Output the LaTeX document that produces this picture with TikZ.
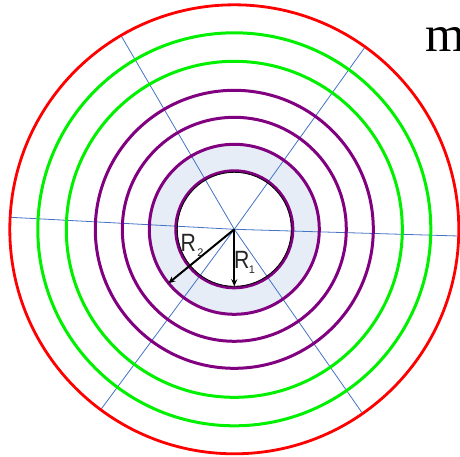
\documentclass[tikz,border=0pt]{standalone}
\usepackage{fontspec}
\setmainfont{Liberation Serif}
\newfontfamily\labelfont{Liberation Sans}
\usetikzlibrary{arrows.meta}
\definecolor{ringred}{HTML}{FF0000}
\definecolor{ringgreen}{HTML}{00F000}
\definecolor{ringpurple}{HTML}{800080}
\definecolor{rayblue}{HTML}{4472C4}
\definecolor{annulus}{HTML}{E7EDF7}
\definecolor{labgray}{HTML}{262626}
\tikzset{
  ring/.style={line width=3pt},
  ray/.style={draw=rayblue, line width=0.8pt},
  radius arrow/.style={draw=black, line width=2pt, -{Stealth[length=7pt,width=6pt]}},
  rlabel/.style={text=labgray, font=\labelfont\fontsize{25}{25}\selectfont, inner sep=0pt, xscale=0.85},
  rsub/.style={text=labgray, font=\labelfont\fontsize{11}{11}\selectfont, inner sep=0pt}
}
\begin{document}
\begin{tikzpicture}[x=1pt,y=-1pt]
\useasboundingbox (0,0) rectangle (460,456);
\clip (0,0) rectangle (460,456);
\coordinate (c) at (234.3,229.3);
% shaded annulus
\fill[annulus, even odd rule] (c) circle[radius=85pt] (c) circle[radius=58pt];
% rays
\coordinate (ul) at (120.7,35);
\coordinate (lr) at (361.7,412.3);
\coordinate (ur) at (366,45.7);
\coordinate (ll) at (101,409.3);
\coordinate (le) at (10.7,217.3);
\coordinate (ri) at (462,236.1);
\foreach \e in {ul,lr,ur,ll,le,ri} \draw[ray] (c) -- (\e);
% rings
\draw[ring, ringred, line width=2.8pt] (c) circle[radius=224.5pt];
\draw[ring, ringgreen] (c) circle[radius=196.5pt];
\draw[ring, ringgreen] (c) circle[radius=168pt];
\draw[ring, ringpurple] (c) circle[radius=139pt];
\draw[ring, ringpurple] (c) circle[radius=112pt];
\draw[ring, ringpurple] (c) circle[radius=85pt];
\draw[ring, ringpurple] (c) circle[radius=58.5pt];
\draw[black, line width=0.8pt] (c) circle[radius=57pt];
% labels
\node[rlabel] (R2) at (188.3,242.5) {R};
\node[rsub] (R2s) at (200.5,253) {2};
\node[rlabel] (R1) at (241.7,260) {R};
\node[rsub] (R1s) at (252,270) {1};
% radius arrows
\coordinate (r2end) at (168.3,283.3);
\coordinate (r1end) at (234.3,286.3);
\draw[radius arrow] (c) -- (r2end);
\draw[radius arrow] (c) -- (r1end);
% top right text
\node[anchor=base west, inner sep=0pt, font=\fontsize{51}{51}\selectfont] (m) at (425.5,51.7) {m};
\end{tikzpicture}
\end{document}
